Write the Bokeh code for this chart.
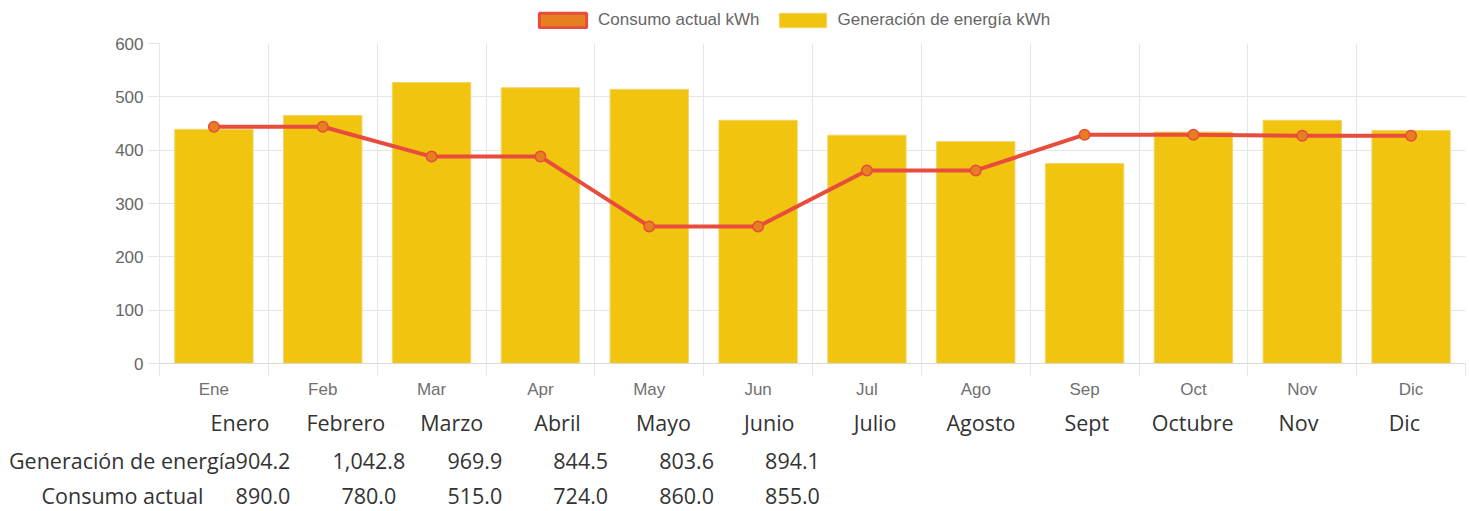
from bokeh.plotting import figure
from bokeh.layouts import column
from bokeh.models import ColumnDataSource, FixedTicker, Range1d, Legend, LegendItem
from bokeh.core.properties import value
from bokeh.embed import file_html
from bokeh.resources import INLINE

# ---------------- data ----------------
months_short = ["Ene", "Feb", "Mar", "Apr", "May", "Jun", "Jul", "Ago", "Sep", "Oct", "Nov", "Dic"]
generacion = [439, 465, 527, 517, 514, 456, 428, 416, 375, 434, 456, 437]
consumo = [444, 444, 388, 388, 257, 257, 362, 362, 429, 429, 427, 427]
y_ticks = [0, 100, 200, 300, 400, 500, 600]

table_months = ["Enero", "Febrero", "Marzo", "Abril", "Mayo", "Junio", "Julio",
                "Agosto", "Sept", "Octubre", "Nov", "Dic"]
table_gen = [904.2, 1042.8, 969.9, 844.5, 803.6, 894.1]
table_cons = [890.0, 780.0, 515.0, 724.0, 860.0, 855.0]
row_labels = ["Generación de energía", "Consumo actual"]
legend_labels = ["Consumo actual kWh", "Generación de energía kWh"]

# ---------------- styles / layout ----------------
W = 1468
LH = 33                                    # legend strip height
CH = 369                                   # chart figure height
TH = 108                                   # table figure height
LEFT = 159                                 # frame left (page px)
FRAME_TOP, FRAME_BOTTOM = 43, 363          # frame edges (page px)
AXIS_FONT = "Liberation Sans"
TFONT = value("Open Sans")
GRID = "#e6e6e6"
TXT = "#666666"
TTXT = "#333333"
BAR = "#F1C40F"
BAR_EDGE = "#F3D36B"
LINE = "#E74C3C"
MARK = "#E67E22"


def bare(fig):
    fig.frame_align = False
    fig.outline_line_color = None
    fig.xaxis.visible = False
    fig.yaxis.visible = False
    fig.grid.visible = False


# ---------------- legend strip ----------------
lg = figure(width=W, height=LH, output_backend="svg", toolbar_location=None,
            x_range=Range1d(0, 1), y_range=Range1d(0, 1),
            min_border=0, min_border_left=0, min_border_right=0,
            min_border_top=0, min_border_bottom=0)
bare(lg)
# swatch renderers sit outside the visible range; they only feed the legend
d_line = lg.rect(x=[-10], y=[-10], width=1, height=1, fill_color=MARK, line_color=LINE, line_width=3)
d_bar = lg.rect(x=[-10], y=[-10], width=1, height=1, fill_color=BAR, line_color=BAR_EDGE, line_width=1)
legend = Legend(items=[LegendItem(label=legend_labels[0], renderers=[d_line], index=0),
                       LegendItem(label=legend_labels[1], renderers=[d_bar], index=0)],
                orientation="horizontal", location=(533, LH - 29.5),
                glyph_width=59, glyph_height=18, label_standoff=6, spacing=13,
                padding=0, margin=0, border_line_color=None, background_fill_alpha=0,
                label_text_font=AXIS_FONT, label_text_font_size="17px", label_text_color=TXT,
                label_height=18)
lg.add_layout(legend)

# ---------------- chart ----------------
n = len(months_short)
xc = [i + 0.5 for i in range(n)]
src = ColumnDataSource(dict(x=xc, gen=generacion, cons=consumo))

p = figure(width=W, height=CH, output_backend="svg", toolbar_location=None,
           x_range=Range1d(0, n), y_range=Range1d(0, 600),
           min_border_left=LEFT, min_border_right=W - 1465,
           min_border_top=FRAME_TOP - LH, min_border_bottom=LH + CH - FRAME_BOTTOM)
p.outline_line_color = None
p.frame_align = False

p.vbar(x="x", top="gen", width=0.72, bottom=0, source=src,
       fill_color=BAR, line_color=BAR_EDGE, line_width=1)
p.line(x="x", y="cons", source=src, line_color=LINE, line_width=4)
p.scatter(x="x", y="cons", source=src, size=10.5, fill_color=MARK, line_color=LINE, line_width=1.5)

xax = p.xaxis[0]
xax.ticker = FixedTicker(ticks=xc, minor_ticks=list(range(n + 1)))
xax.major_label_overrides = {x: m for x, m in zip(xc, months_short)}
xax.major_tick_out = 0
xax.major_tick_in = 0
xax.minor_tick_out = 12
xax.minor_tick_in = 0
xax.minor_tick_line_color = GRID
xax.axis_line_color = "#d9d9d9"
xax.major_label_standoff = 4
xax.major_label_text_font = AXIS_FONT
xax.major_label_text_font_size = "17px"
xax.major_label_text_color = "#707070"

yax = p.yaxis[0]
yax.ticker = FixedTicker(ticks=y_ticks)
yax.major_tick_out = 11
yax.major_tick_in = 0
yax.minor_tick_line_color = None
yax.major_tick_line_color = GRID
yax.axis_line_color = GRID
yax.major_label_standoff = 5
yax.major_label_text_font = AXIS_FONT
yax.major_label_text_font_size = "17px"
yax.major_label_text_color = TXT

p.xgrid.ticker = FixedTicker(ticks=list(range(n + 1)))
p.xgrid.grid_line_color = GRID
p.ygrid.grid_line_color = GRID

# ---------------- table figure (pixel coordinates of its own canvas) ----------------
t = figure(width=W, height=TH, output_backend="svg", toolbar_location=None,
           x_range=Range1d(0, W), y_range=Range1d(TH, 0),
           min_border=0, min_border_left=0, min_border_right=0,
           min_border_top=0, min_border_bottom=0)
bare(t)

TOP_T = LH + CH
month_x = [239.5 + 105.85 * i for i in range(len(table_months))]
val_x = [262.5 + 105.9 * i for i in range(len(table_gen))]
row_y = [422 - TOP_T, 460 - TOP_T, 495 - TOP_T]


def row(xs, y, texts):
    t.text(x=xs, y=[y] * len(texts), text=texts, text_align="center", text_baseline="middle",
           text_font=TFONT, text_font_size="21.5px", text_color=TTXT)


row(month_x, row_y[0], table_months)
row([122], row_y[1], [row_labels[0]])
row([122], row_y[2], [row_labels[1]])
row(val_x, row_y[1], ["{:,.1f}".format(v) for v in table_gen])
row(val_x, row_y[2], ["{:,.1f}".format(v) for v in table_cons])

layout = column(lg, p, t, spacing=0)
open("out.html", "w").write(file_html(layout, INLINE))
